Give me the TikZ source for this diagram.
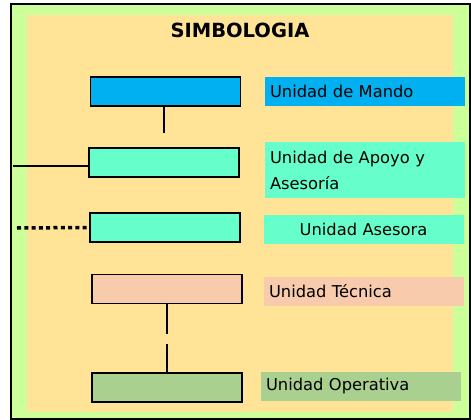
\documentclass[tikz,border=0pt]{standalone}
\usepackage{fontspec}
\setmainfont{DejaVu Sans}
\usetikzlibrary{calc}
\definecolor{marco}{HTML}{CCFF99}
\definecolor{fondo}{HTML}{FFE497}
\definecolor{mando}{HTML}{00B0F0}
\definecolor{apoyo}{HTML}{66FFCC}
\definecolor{tecnica}{HTML}{F8CBAD}
\definecolor{operativa}{HTML}{A9D08E}
\begin{document}
\begin{tikzpicture}[x=1pt, y=-1pt,
  caja/.style={draw=black, line width=1.5pt, minimum width=150pt, minimum height=29pt, inner sep=0pt},
  rotulo/.style={minimum width=200pt, minimum height=29pt, inner xsep=5pt, inner ysep=0pt, text width=190pt, align=left, font=\fontsize{16.3}{26}\selectfont},
  every path/.style={line width=2.5pt}]
\useasboundingbox (0,0) rectangle (471,420);
\fill[marco] (11,4) rectangle (470,419);
\fill[fondo] (27,15) rectangle (453,412);
\draw[line width=2pt] (11,4) rectangle (470,419);

\coordinate (M) at (165.5,91.5);
\coordinate (AP) at (164,162.5);
\coordinate (AS) at (165,227.5);
\coordinate (T) at (167,289);
\coordinate (O) at (167,387.5);

\node[font=\bfseries\fontsize{19.5}{23}\selectfont] (titulo) at (240,30) {SIMBOLOGIA};

\node[caja, fill=mando] (mando) at (M) {};
\node[caja, fill=apoyo] (apoyo) at (AP) {};
\node[caja, fill=apoyo] (asesora) at (AS) {};
\node[caja, fill=tecnica] (tecnica) at (T) {};
\node[caja, fill=operativa] (operativa) at (O) {};

\node[rotulo, fill=mando] (rMando) at (365,91.5) {Unidad de Mando};
\node[rotulo, fill=apoyo, minimum height=56pt] (rApoyo) at (365,170) {Unidad de Apoyo y\\Asesoría};
\node[rotulo, fill=apoyo, align=center] (rAsesora) at (363.5,229.5) {Unidad Asesora};
\node[rotulo, fill=tecnica] (rTecnica) at (364,291.5) {Unidad Técnica};
\node[rotulo, fill=operativa] (rOperativa) at (361,386) {Unidad Operativa};

\coordinate (mandoFin) at (164,133);
\coordinate (apoyoFin) at (13,166);
\coordinate (asesoraFin) at (17,228);

\draw (mando.south -| mandoFin) -- (mandoFin);
\draw[line width=1.5pt] (apoyoFin) -- (apoyoFin -| apoyo.west);
\draw[line width=3.5pt, dash pattern=on 4pt off 3.3pt] (asesoraFin) -- (asesora.west);
\draw[dash pattern=on 30pt off 10pt] (tecnica.south) -- (operativa.north);
\end{tikzpicture}
\end{document}
